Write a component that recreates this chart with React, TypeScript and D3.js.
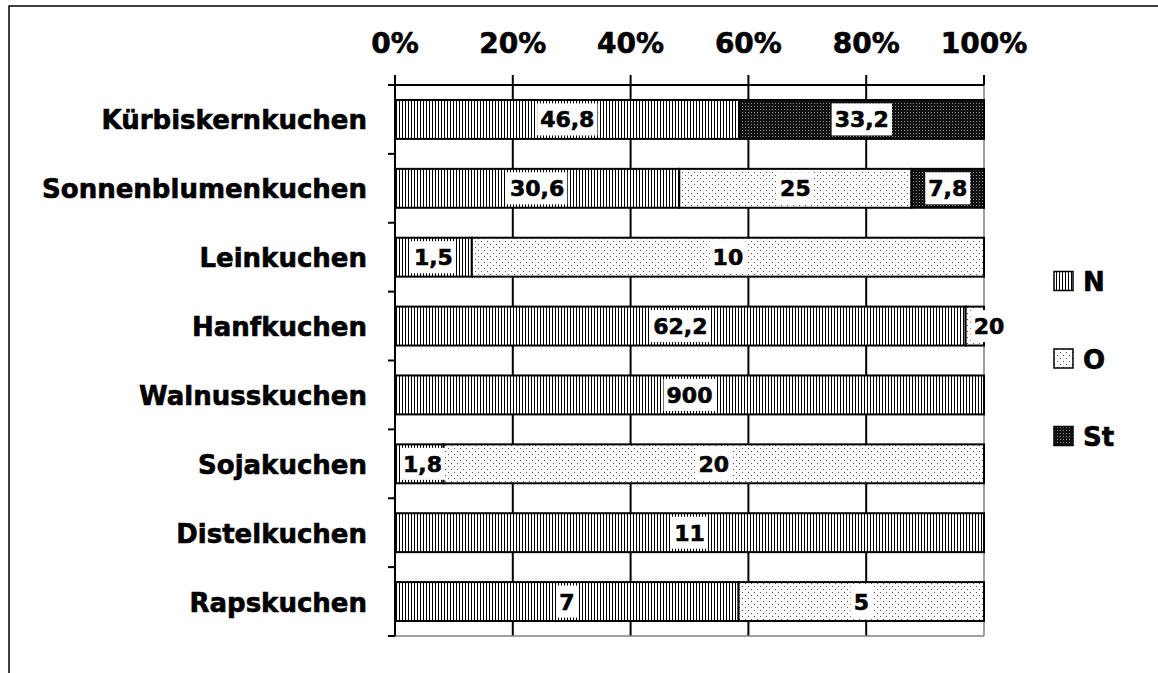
import React from "react";
import * as d3 from "d3";

const categories = [
  "Kürbiskernkuchen",
  "Sonnenblumenkuchen",
  "Leinkuchen",
  "Hanfkuchen",
  "Walnusskuchen",
  "Sojakuchen",
  "Distelkuchen",
  "Rapskuchen",
];
const seriesNames = ["N", "O", "St"];
const valuesN = [46.8, 30.6, 1.5, 62.2, 900, 1.8, 11, 7];
const valuesO = [0, 25, 10, 2.0, 0, 20, 0, 5];
const valuesSt = [33.2, 7.8, 0, 0, 0, 0, 0, 0];
const labelsN = ["46,8", "30,6", "1,5", "62,2", "900", "1,8", "11", "7"];
const labelsO = ["", "25", "10", "20", "", "20", "", "5"];
const labelsSt = ["33,2", "7,8", "", "", "", "", "", ""];
const tickValues = [0, 0.2, 0.4, 0.6, 0.8, 1];

const W = 1158;
const H = 673;
const X0 = 395;
const X1 = 984;
const Y0 = 85;
const Y1 = 636;
const FONT = "'DejaVu Sans', Verdana, sans-serif";

const patternIds = ["patN", "patO", "patSt"];

function textWidth(s: string, fs: number) {
  let w = 0;
  for (const c of s) {
    if (c === ",") w += 0.38;
    else w += 0.696;
  }
  return w * fs;
}

export default function App() {
  const x = d3.scaleLinear().domain([0, 1]).range([X0, X1]);
  const y = d3
    .scaleBand<string>()
    .domain(categories)
    .range([Y0, Y1])
    .paddingInner(0.435)
    .paddingOuter(0.2175);

  const rows = categories.map((c, i) => ({
    cat: c,
    N: valuesN[i],
    O: valuesO[i],
    St: valuesSt[i],
  }));
  const stack = d3
    .stack<any>()
    .keys(seriesNames)
    .offset(d3.stackOffsetExpand);
  const stacked = stack(rows);
  const labelSets = [labelsN, labelsO, labelsSt];

  const step = y.step();
  const boundaries = d3.range(categories.length + 1).map((i) => Y0 + i * step);

  const labelFs = 22;
  const heavy = { stroke: "#000", strokeWidth: 0.6 };

  return (
    <svg
      width={W}
      height={H}
      style={{ position: "absolute", left: 0, top: 0, display: "block", background: "#fff" }}
    >
      <defs>
        <pattern id="patN" width={3} height={4} patternUnits="userSpaceOnUse">
          <rect width={3} height={4} fill="#fff" />
          <rect x={0} y={0} width={1} height={4} fill="#000" />
        </pattern>
        <pattern id="patO" width={6} height={6} patternUnits="userSpaceOnUse">
          <rect width={6} height={6} fill="#fff" />
          <rect x={1} y={1} width={1} height={1} fill="#555" />
          <rect x={4} y={4} width={1} height={1} fill="#555" />
        </pattern>
        <pattern id="patSt" width={3} height={3} patternUnits="userSpaceOnUse">
          <rect width={3} height={3} fill="#111" />
          <rect x={1} y={1} width={1} height={1} fill="#8a8a8a" />
        </pattern>
      </defs>

      {/* outer border */}
      <rect x={9} y={6} width={1300} height={800} fill="none" stroke="#000" strokeWidth={1.5} />

      {/* vertical gridlines */}
      {tickValues.map((t, i) => (
        <line
          key={"g" + i}
          x1={x(t)}
          x2={x(t)}
          y1={Y0}
          y2={Y1}
          stroke={t === 1 ? "#808080" : "#000"}
          strokeWidth={t === 1 ? 1.5 : 2}
        />
      ))}
      {/* bottom plot border */}
      <line x1={X0} x2={X1} y1={Y1} y2={Y1} stroke="#808080" strokeWidth={1.5} />

      {/* bars */}
      {stacked.map((layer, si) =>
        layer.map((d, i) => {
          const w = x(d[1]) - x(d[0]);
          if (w <= 0.01) return null;
          return (
            <rect
              key={"b" + si + "-" + i}
              x={x(d[0])}
              y={y(categories[i])}
              width={w}
              height={y.bandwidth()}
              fill={`url(#${patternIds[si]})`}
              stroke="#000"
              strokeWidth={2}
            />
          );
        })
      )}

      {/* data labels */}
      {stacked.map((layer, si) =>
        layer.map((d, i) => {
          const lab = labelSets[si][i];
          if (!lab) return null;
          const x0 = x(d[0]);
          const x1 = x(d[1]);
          const tw = textWidth(lab, labelFs);
          const cx = Math.max((x0 + x1) / 2, x0 + tw / 2 + 8);
          const cy = (y(categories[i]) as number) + y.bandwidth() / 2;
          return (
            <g key={"l" + si + "-" + i}>
              <rect
                x={cx - tw / 2 - 3}
                y={cy - 16}
                width={tw + 6}
                height={32}
                fill="#fff"
              />
              <text
                x={cx}
                y={cy + 8}
                textAnchor="middle"
                fontFamily={FONT}
                fontWeight="bold"
                fontSize={labelFs}
                fill="#000"
                {...heavy}
              >
                {lab}
              </text>
            </g>
          );
        })
      )}

      {/* top axis */}
      <line x1={X0} x2={X1} y1={Y0} y2={Y0} stroke="#000" strokeWidth={2} />
      {tickValues.map((t, i) => (
        <g key={"t" + i}>
          <line x1={x(t)} x2={x(t)} y1={Y0 - 10} y2={Y0} stroke="#000" strokeWidth={2} />
          <text
            x={x(t)}
            y={53}
            textAnchor="middle"
            fontFamily={FONT}
            fontWeight="bold"
            fontSize={28}
            fill="#000"
            {...heavy}
          >
            {d3.format(".0%")(t)}
          </text>
        </g>
      ))}

      {/* left axis */}
      <line x1={X0} x2={X0} y1={Y0} y2={Y1} stroke="#000" strokeWidth={2} />
      {boundaries.map((b, i) => (
        <line key={"lt" + i} x1={X0 - 7} x2={X0} y1={b} y2={b} stroke="#000" strokeWidth={2} />
      ))}
      {categories.map((c) => (
        <text
          key={c}
          x={367}
          y={(y(c) as number) + y.bandwidth() / 2 + 10}
          textAnchor="end"
          fontFamily={FONT}
          fontWeight="bold"
          fontSize={26}
          fill="#000"
          {...heavy}
        >
          {c}
        </text>
      ))}

      {/* legend */}
      {seriesNames.map((s, i) => {
        const cy = 281 + i * 77.5;
        return (
          <g key={"lg" + s}>
            <rect
              x={1054}
              y={cy - 9.5}
              width={19}
              height={19}
              fill={`url(#${patternIds[i]})`}
              stroke="#000"
              strokeWidth={1.5}
            />
            <text
              x={1083}
              y={cy + 10}
              fontFamily={FONT}
              fontWeight="bold"
              fontSize={26}
              fill="#000"
              {...heavy}
            >
              {s}
            </text>
          </g>
        );
      })}
    </svg>
  );
}
